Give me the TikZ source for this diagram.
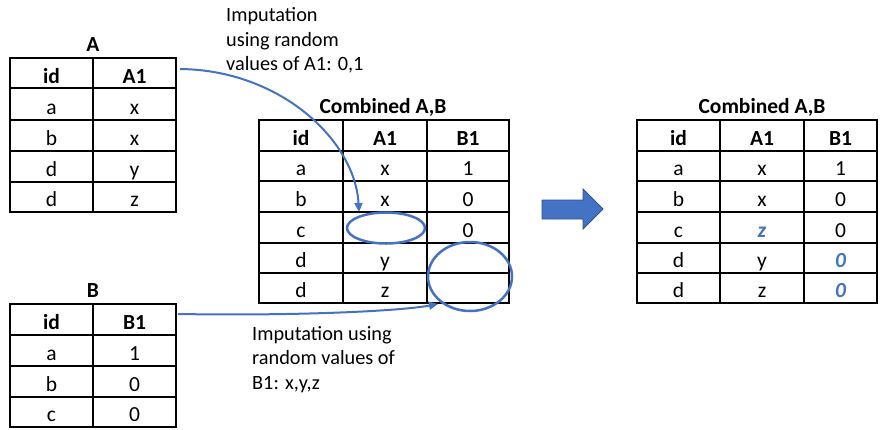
\documentclass[tikz,border=0pt]{standalone}
\usepackage{fontspec}
\setmainfont{Carlito}
\usetikzlibrary{arrows.meta,shapes.geometric}
\definecolor{ofblue}{HTML}{4472C4}
\definecolor{ofbluedark}{HTML}{2F528F}
\begin{document}
\begin{tikzpicture}[x=1pt,y=-1pt,
  grid/.style={line width=2pt,black},
  cell/.style={anchor=base,inner sep=0pt,font=\fontsize{21.5}{24}\selectfont},
  headcell/.style={cell,font=\fontsize{21.5}{24}\selectfont\bfseries},
  ttl/.style={anchor=base,inner sep=0pt,font=\fontsize{21.5}{24}\selectfont\bfseries},
  lbl/.style={anchor=base west,inner sep=0pt,font=\fontsize{20.3}{24}\selectfont},
  hilite/.style={text=ofblue,font=\fontsize{21.5}{24}\selectfont\bfseries\itshape},
  conn/.style={ofblue,line width=2pt,-{Triangle[length=9pt,width=8pt]}},
  ringmark/.style={ellipse,draw=ofblue,line width=2.5pt,inner sep=0pt}
]
\useasboundingbox (0,0) rectangle (880,429);

% ---------- Table A ----------
\node[ttl] (tA) at (93,51) {A};
\draw[grid] (10,58) rectangle (176,212);
\draw[grid] (93,58) -- (93,212);
\foreach \y in {88,120,151,182} \draw[grid] (10,\y) -- (176,\y);
\node[headcell] (A-h1) at (51.5,83) {id};
\node[headcell] (A-h2) at (134.5,83) {A1};
\foreach \i/\yy/\a/\b in {1/114/a/x,2/145/b/x,3/176/d/y,4/206/d/z}{
  \node[cell] (A-\i1) at (51.5,\yy) {\a};
  \node[cell] (A-\i2) at (134.5,\yy) {\b};
}

% ---------- Table B ----------
\node[ttl] (tB) at (93,297) {B};
\draw[grid] (10,304) rectangle (176,427);
\draw[grid] (93,304) -- (93,427);
\foreach \y in {335,366,397} \draw[grid] (10,\y) -- (176,\y);
\node[headcell] (B-h1) at (51.5,329) {id};
\node[headcell] (B-h2) at (134.5,329) {B1};
\foreach \i/\yy/\a/\b in {1/360/a/1,2/391/b/0,3/421/c/0}{
  \node[cell] (B-\i1) at (51.5,\yy) {\a};
  \node[cell] (B-\i2) at (134.5,\yy) {\b};
}

% ---------- Combined (middle) ----------
\node[ttl] (tM) at (383,113) {Combined A,B};
\draw[grid] (259,120) rectangle (509,303);
\foreach \x in {343,427} \draw[grid] (\x,120) -- (\x,303);
\foreach \y in {151,181,212,243,273} \draw[grid] (259,\y) -- (509,\y);
\node[headcell] (M-h1) at (301,145) {id};
\node[headcell] (M-h2) at (385,145) {A1};
\node[headcell] (M-h3) at (468,145) {B1};
\foreach \i/\yy/\a/\b/\c in {1/175/a/x/1,2/206/b/x/0,3/237/c//0,4/267/d/y/,5/297/d/z/}{
  \node[cell] (M-\i1) at (301,\yy) {\a};
  \node[cell] (M-\i2) at (385,\yy) {\b};
  \node[cell] (M-\i3) at (468,\yy) {\c};
}

% ---------- Combined (right) ----------
\node[ttl] (tR) at (762,113) {Combined A,B};
\draw[grid] (637,120) rectangle (877,303);
\foreach \x in {720,804} \draw[grid] (\x,120) -- (\x,303);
\foreach \y in {151,181,212,243,273} \draw[grid] (637,\y) -- (877,\y);
\node[headcell] (R-h1) at (678.5,145) {id};
\node[headcell] (R-h2) at (762,145) {A1};
\node[headcell] (R-h3) at (840.5,145) {B1};
\node[cell] (R-11) at (678.5,175) {a};
\node[cell] (R-12) at (762,175) {x};
\node[cell] (R-13) at (840.5,175) {1};
\node[cell] (R-21) at (678.5,206) {b};
\node[cell] (R-22) at (762,206) {x};
\node[cell] (R-23) at (840.5,206) {0};
\node[cell] (R-31) at (678.5,237) {c};
\node[cell,hilite] (R-32) at (762,237) {z};
\node[cell] (R-33) at (840.5,237) {0};
\node[cell] (R-41) at (678.5,267) {d};
\node[cell] (R-42) at (762,267) {y};
\node[cell,hilite] (R-43) at (840.5,267) {0};
\node[cell] (R-51) at (678.5,297) {d};
\node[cell] (R-52) at (762,297) {z};
\node[cell,hilite] (R-53) at (840.5,297) {0};

% ---------- block arrow ----------
\fill[ofblue,draw=ofbluedark,line width=0.8pt] (542,200) -- (583,200) -- (583,189) -- (603,209) -- (583,229) -- (583,219) -- (542,219) -- cycle;

% ---------- marks ----------
\node[ringmark,minimum width=78pt,minimum height=31pt] (e1) at (386,228) {};
\node[ringmark,minimum width=84pt,minimum height=69pt] (e2) at (470,276.5) {};

% ---------- connectors ----------
\coordinate (src1) at (180,69);
\coordinate (tip1) at (359,212);
\coordinate (src2) at (178,314);
\coordinate (tip2) at (438,304);
\draw[conn] (src1) .. controls (280,70) and (355,140) .. (tip1);
\draw[conn] (src2) .. controls (300,316) and (400,311) .. (tip2);

% ---------- labels ----------
\node[lbl] (L1a) at (226,21) {Imputation};
\node[lbl] (L1b) at (226,46) {using random};
\node[lbl] (L1c) at (226,70) {values of A1: 0,1};
\node[lbl] (L2a) at (252,340) {Imputation using};
\node[lbl] (L2b) at (252,364) {random values of};
\node[lbl] (L2c) at (252,389) {B1: x,y,z};
\end{tikzpicture}
\end{document}
